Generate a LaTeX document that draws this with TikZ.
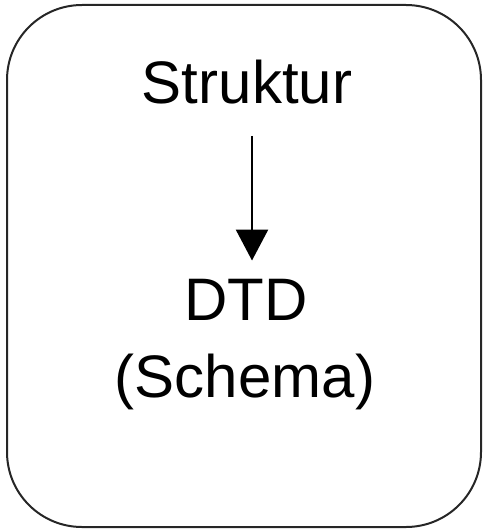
\documentclass[tikz,border=0pt]{standalone}
\usepackage{fontspec}
\setmainfont{Liberation Sans}
\usetikzlibrary{arrows.meta}
\begin{document}
\begin{tikzpicture}[x=1pt,y=-1pt,
  lbl/.style={font=\fontsize{60}{70}\selectfont, inner sep=0pt, anchor=base},
  conn/.style={line width=2.6pt, -{Triangle[width=32pt,length=31pt]}}]
\useasboundingbox (0,0) rectangle (487,532);
\node[draw=black!85, line width=2pt, rounded corners=75pt, minimum width=474pt, minimum height=522pt, inner sep=0pt] (box) at (244,266) {};
\node[lbl] (struktur) at (247,103) {Struktur};
\node[lbl] (dtd) at (246,320) {DTD};
\node[lbl] (schema) at (245,397) {(Schema)};
\draw[conn] ([xshift=5pt,yshift=-32pt]struktur.south) -- ([xshift=5pt,yshift=18pt]struktur.south |- dtd.north);
\end{tikzpicture}
\end{document}
